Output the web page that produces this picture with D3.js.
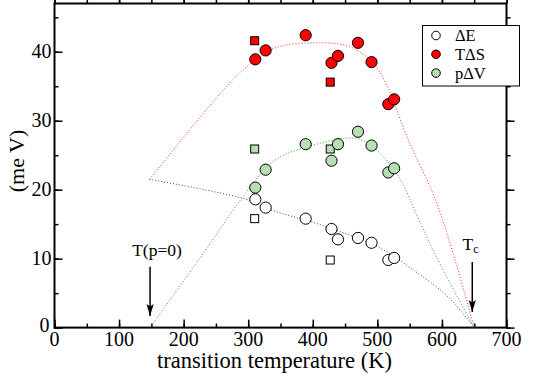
<!DOCTYPE html>
<html>
<head>
<meta charset="utf-8">
<script src="https://cdn.jsdelivr.net/npm/d3@7"></script>
<style>
  body { margin: 0; background: #fff; }
  svg text { font-family: "Liberation Serif", serif; }
</style>
</head>
<body>
<div id="chart"></div>
<script>
// Measured points (circles)
const temps = [311, 327, 389, 429, 439, 470, 491, 517, 526];
const dE    = [18.6, 17.4, 15.8, 14.3, 12.8, 13.0, 12.3, 9.8, 10.1];
const TdS   = [38.9, 40.2, 42.4, 38.4, 39.4, 41.3, 38.5, 32.4, 33.1];
const pdV   = [20.3, 22.9, 26.6, 24.2, 26.6, 28.4, 26.4, 22.5, 23.1];

// Measured points (squares)
const sqTemps = [310, 427];
const sqdE    = [15.8, 9.8];
const sqTdS   = [41.6, 35.6];
const sqpdV   = [25.9, 25.9];

// Dotted guide curves
const redFitT   = [147, 200, 250, 290, 340, 404, 458, 494, 516, 547, 593, 650];
const redFitV   = [21.5, 27.6, 33.2, 37.2, 40.5, 41.3, 40.7, 38.3, 34.9, 27.4, 17.8, 0];
const greenFitT = [150, 230, 288, 339, 391, 469, 505, 536, 562, 590, 650];
const greenFitV = [0.3, 10.7, 18.5, 24.1, 26.2, 27.4, 25.2, 21.4, 16.1, 10.5, 0];
const blackFitT = [147, 297, 334, 412, 505, 552, 609, 650];
const blackFitV = [21.5, 18.6, 17.1, 14.9, 11.5, 8.6, 4.5, 0];

const xTicks = [0, 100, 200, 300, 400, 500, 600, 700];
const yTicks = [0, 10, 20, 30, 40];

const W = 537, H = 379;
const margin = { top: 3.5, right: 30.5, bottom: 51.4, left: 54.5 };
const width = W - margin.left - margin.right;
const height = H - margin.top - margin.bottom;
const serif = 'Liberation Serif';

const svg = d3.select('#chart').append('svg')
    .attr('width', W)
    .attr('height', H)
    .attr('font-family', serif);

// hatched green fill
const defs = svg.append('defs');
const pat = defs.append('pattern')
    .attr('id', 'greenDots')
    .attr('patternUnits', 'userSpaceOnUse')
    .attr('width', 2).attr('height', 2);
pat.append('rect').attr('width', 2).attr('height', 2).attr('fill', '#d8efd4');
pat.append('rect').attr('width', 1).attr('height', 1).attr('fill', '#7fc47c');
pat.append('rect').attr('x', 1).attr('y', 1).attr('width', 1).attr('height', 1).attr('fill', '#a9d9a5');

const g = svg.append('g')
    .attr('transform', `translate(${margin.left}, ${margin.top})`);

const x = d3.scaleLinear().domain([0, 700]).range([0, width]);
const y = d3.scaleLinear().domain([0, 47]).range([height, 0]);

// Frame and ticks (inward, on all four sides)
const minorX = d3.range(0, 701, 50);
const minorY = d3.range(0, 47, 5);
function tickAxis(axis, ticks, len) {
    return axis.tickValues(ticks).tickSize(-len).tickFormat('');
}
const axG = g.append('g').attr('class', 'ticks');
axG.append('g').attr('transform', `translate(0,${height})`).call(tickAxis(d3.axisBottom(x), minorX, 4));
axG.append('g').attr('transform', `translate(0,${height})`).call(tickAxis(d3.axisBottom(x), xTicks, 8));
axG.append('g').call(tickAxis(d3.axisTop(x), minorX, -4));
axG.append('g').call(tickAxis(d3.axisTop(x), xTicks, -8));
axG.append('g').call(tickAxis(d3.axisLeft(y), minorY, 4));
axG.append('g').call(tickAxis(d3.axisLeft(y), yTicks, 8));
axG.append('g').attr('transform', `translate(${width},0)`).call(tickAxis(d3.axisRight(y), minorY, -4));
axG.append('g').attr('transform', `translate(${width},0)`).call(tickAxis(d3.axisRight(y), yTicks, -8));
axG.selectAll('.domain').remove();
axG.selectAll('line').attr('stroke', '#000').attr('stroke-width', 1.5);

g.append('rect')
    .attr('width', width).attr('height', height)
    .attr('fill', 'none').attr('stroke', '#000').attr('stroke-width', 2);

// Tick labels
g.selectAll('.xlab').data(xTicks).join('text')
    .attr('x', d => x(d)).attr('y', height + 18)
    .attr('text-anchor', 'middle')
    .attr('font-family', serif)
    .attr('font-size', 20)
    .text(d => d);
g.selectAll('.ylab').data(yTicks.filter(d => d > 0)).join('text')
    .attr('x', -3).attr('y', d => y(d) + 6.5)
    .attr('text-anchor', 'end')
    .attr('font-family', serif)
    .attr('font-size', 20)
    .text(d => d);
g.append('text')
    .attr('x', -5).attr('y', height + 4)
    .attr('text-anchor', 'end')
    .attr('font-family', serif)
    .attr('font-size', 20)
    .text('0');

// Axis names
g.append('text')
    .attr('x', x(350) - 6).attr('y', height + 40)
    .attr('text-anchor', 'middle')
    .attr('font-family', serif)
    .attr('font-size', 22.5)
    .text('transition temperature (K)');
svg.append('text')
    .attr('transform', `translate(24, 161) rotate(-90)`)
    .attr('text-anchor', 'middle')
    .attr('font-family', serif)
    .attr('font-size', 22)
    .text('(me V)');

// Dotted curves
const line = d3.line().x(d => x(d[0])).y(d => y(d[1])).curve(d3.curveCatmullRom);
const curves = [
    { T: blackFitT, V: blackFitV, color: '#444' },
    { T: greenFitT, V: greenFitV, color: '#2ca02c' },
    { T: redFitT, V: redFitV, color: '#ff2020' }
];
g.selectAll('.fit').data(curves).join('path')
    .attr('d', c => line(c.T.map((t, i) => [t, c.V[i]])))
    .attr('fill', 'none')
    .attr('stroke', c => c.color)
    .attr('stroke-width', 1)
    .attr('stroke-dasharray', '1 2');

// Arrows
defs.append('marker')
    .attr('id', 'arrow')
    .attr('viewBox', '0 0 10 10')
    .attr('refX', 10).attr('refY', 5)
    .attr('markerWidth', 12).attr('markerHeight', 12)
    .attr('markerUnits', 'userSpaceOnUse')
    .attr('orient', 'auto')
    .append('path').attr('d', 'M0,2 L10,5 L0,8 L2,5 Z').attr('fill', '#000');

const arrows = [
    { t: 148, y0: 266.7, y1: 316 },
    { t: 647, y0: 262, y1: 312 }
];
svg.selectAll('.arrow').data(arrows).join('line')
    .attr('x1', d => margin.left + x(d.t)).attr('x2', d => margin.left + x(d.t))
    .attr('y1', d => d.y0).attr('y2', d => d.y1)
    .attr('stroke', '#000').attr('stroke-width', 1.5)
    .attr('marker-end', 'url(#arrow)');

svg.append('text')
    .attr('x', 157).attr('y', 256)
    .attr('text-anchor', 'middle')
    .attr('font-family', serif)
    .attr('font-size', 17.5)
    .text('T(p=0)');
const tc = svg.append('text')
    .attr('x', 462.5).attr('y', 250)
    .attr('font-family', serif)
    .attr('font-size', 17.5)
    .text('T');
tc.append('tspan').attr('font-size', 12).attr('dy', 2.5).text('c');

// Points
const r = 5.6, sq = 8;
const series = [
    { v: dE, sqv: sqdE, fill: '#fff' },
    { v: pdV, sqv: sqpdV, fill: 'url(#greenDots)' },
    { v: TdS, sqv: sqTdS, fill: '#ff0000' }
];
series.forEach(s => {
    g.append('g').selectAll('rect').data(sqTemps).join('rect')
        .attr('x', (d) => x(d) - sq / 2)
        .attr('y', (d, i) => y(s.sqv[i]) - sq / 2)
        .attr('width', sq).attr('height', sq)
        .attr('fill', s.fill).attr('stroke', '#000').attr('stroke-width', 1);
    g.append('g').selectAll('circle').data(temps).join('circle')
        .attr('cx', d => x(d))
        .attr('cy', (d, i) => y(s.v[i]))
        .attr('r', r)
        .attr('fill', s.fill).attr('stroke', '#000').attr('stroke-width', 1);
});

// Legend
const legend = svg.append('g');
legend.append('rect')
    .attr('x', 422.5).attr('y', 25.5).attr('width', 97).attr('height', 60.5)
    .attr('fill', '#fff').attr('stroke', '#000').attr('stroke-width', 1);
const legendNames = ['\u0394E', 'T\u0394S', 'p\u0394V'];
const legendFills = ['#fff', '#ff0000', 'url(#greenDots)'];
legendNames.forEach((name, i) => {
    const ly = 35.5 + i * 18.8;
    legend.append('circle')
        .attr('cx', 436).attr('cy', ly).attr('r', 4.3)
        .attr('fill', legendFills[i]).attr('stroke', '#000').attr('stroke-width', 1);
    legend.append('text')
        .attr('x', 455).attr('y', ly + 5.5)
        .attr('font-family', serif)
        .attr('font-size', 16.5)
        .text(name);
});
</script>
</body>
</html>
